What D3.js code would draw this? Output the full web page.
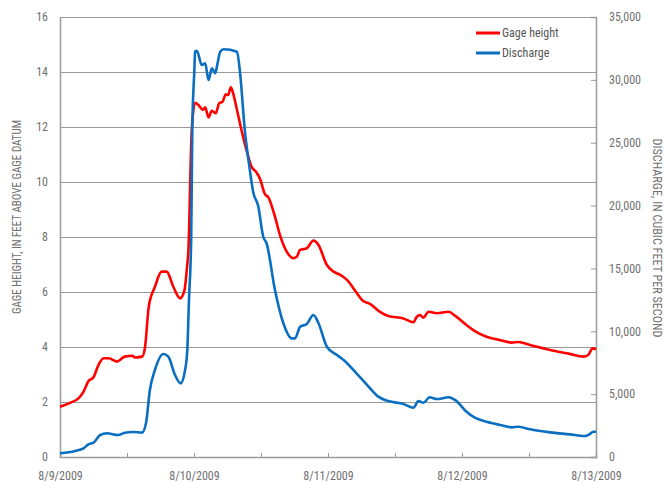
<!DOCTYPE html>
<html><head><meta charset="utf-8">
<script src="https://cdn.jsdelivr.net/npm/d3@7"></script>
<style>
html,body{margin:0;padding:0;background:#fff;}
svg{display:block;}
text{font-family:"Liberation Sans Narrow","Arial Narrow","Roboto Condensed","Liberation Sans",sans-serif;}
</style></head>
<body><svg id="chart" width="666" height="482"></svg>
<script>
// hours after 8/9/2009 00:00
const gageHours = [0,1.8,3.3,4.2,5.1,6.0,6.9,7.8,8.7,10.2,11.6,13.0,13.4,14.7,15.2,15.9,17.0,18.2,19.1,20.3,21.5,22.3,22.7,23.0,23.6,24.2,24.8,25.6,26.0,26.6,27.2,27.9,28.5,29.1,29.7,30.1,30.6,31.0,31.7,32.5,33.4,34.3,35.1,35.8,36.7,37.3,38.5,39.4,40.6,41.8,42.4,43.0,44.2,45.4,46.3,47.8,49.0,50.2,51.4,53.1,54.3,55.5,57.3,58.8,61.5,63.3,63.9,64.5,65.1,66.0,67.5,69.6,70.8,72.8,74.3,76.4,78.8,80.9,82.1,84.2,87.8,91.3,93.7,94.6,95.4,96];
const gageFeet = [1.83,1.97,2.13,2.37,2.76,2.90,3.35,3.59,3.59,3.47,3.65,3.68,3.62,3.65,3.95,5.47,6.19,6.74,6.74,6.19,5.77,6.07,6.80,7.53,11.89,12.88,12.80,12.62,12.72,12.35,12.59,12.50,12.86,12.92,13.19,13.16,13.44,13.23,12.62,11.89,11.16,10.56,10.37,10.13,9.56,9.45,8.74,8.07,7.47,7.23,7.28,7.53,7.59,7.87,7.71,6.98,6.74,6.62,6.44,5.98,5.67,5.57,5.28,5.13,5.04,4.90,5.10,5.16,5.07,5.28,5.23,5.28,5.13,4.80,4.58,4.37,4.25,4.16,4.18,4.07,3.89,3.75,3.65,3.71,3.95,3.92];
const dischargeHours = [0,2.7,4.2,5.1,6.0,7.2,8.4,10.4,11.6,13.1,14.7,15.4,16.1,17.0,18.5,19.4,20.6,21.6,22.4,22.8,23.1,23.5,23.7,24.05,24.2,24.5,25.4,26.0,26.6,27.2,27.8,28.1,28.7,29.3,31.7,32.2,33.1,34.0,34.6,35.5,36.4,37.0,38.5,40.0,41.5,42.1,43.0,44.2,45.4,46.3,47.8,49.6,50.8,53.1,55.5,57.0,58.8,61.5,63.3,64.2,65.1,66.2,67.5,69.6,70.8,72.8,74.3,76.4,78.8,80.9,82.1,84.2,87.8,91.3,94.0,94.9,95.5,96];
const dischargeCfs = [294,477,692,1010,1140,1750,1885,1750,1935,1990,1935,2680,5330,6920,8190,7980,6520,5860,6920,8510,12490,17500,26250,30620,32240,32320,31180,31320,29990,30920,30520,31050,32240,32430,32240,30780,26010,22830,21080,19970,17520,17000,13280,10640,9440,9440,10360,10580,11300,10640,8770,8110,7720,6660,5490,4800,4450,4220,3920,4450,4320,4750,4610,4750,4530,3600,3130,2810,2550,2360,2410,2200,1960,1800,1670,1830,2010,2010];
const gageTicks = [0,2,4,6,8,10,12,14,16];
const dischargeTicks = [0,5000,10000,15000,20000,25000,30000,35000];
const dateLabels = ["8/9/2009","8/10/2009","8/11/2009","8/12/2009","8/13/2009"];
const seriesNames = ["Gage height","Discharge"];
const seriesColors = ["#ff0000","#0a6fc0"];

const start = new Date(2009,7,9,0,0,0);
const toDate = h => new Date(start.getTime() + h*3600000);
const gageData = gageHours.map((h,i)=>({t:toDate(h), v:gageFeet[i]}));
const disData = dischargeHours.map((h,i)=>({t:toDate(h), v:dischargeCfs[i]}));

const svg = d3.select("#chart");
const L = 60, R = 596, T = 17, B = 457;
const x = d3.scaleTime().domain([start, toDate(96)]).range([L,R]);
const yG = d3.scaleLinear().domain([0,16]).range([B,T]);
const yQ = d3.scaleLinear().domain([0,35000]).range([B,T]);
const gray = "#9a9a9a", textCol = "#707070";

// gridlines
svg.append("g").selectAll("line").data(gageTicks.filter(d=>d>0)).join("line")
  .attr("x1",L).attr("x2",R).attr("y1",d=>yG(d)+0.5).attr("y2",d=>yG(d)+0.5)
  .attr("stroke",gray).attr("stroke-width",1.2);

// left axis
const gl = svg.append("g").attr("transform",`translate(${L},0)`)
  .call(d3.axisLeft(yG).tickValues(gageTicks).tickSize(0).tickPadding(12));
gl.select(".domain").attr("stroke",gray).attr("stroke-width",1.5);
gl.selectAll("text").attr("fill",textCol).style("font-size","12px");

// right axis
const gr = svg.append("g").attr("transform",`translate(${R},0)`)
  .call(d3.axisRight(yQ).tickValues(dischargeTicks).tickSize(-5).tickPadding(13).tickFormat(d3.format(",")));
gr.select(".domain").attr("stroke",gray).attr("stroke-width",1.5);
gr.selectAll("line").attr("stroke",gray);
gr.selectAll("text").attr("fill",textCol).style("font-size","12px");

// bottom axis
const xTicks = d3.range(0,97,12).map(toDate);
const gb = svg.append("g").attr("transform",`translate(0,${B})`)
  .call(d3.axisBottom(x).tickValues(xTicks).tickSize(-4).tickPadding(14)
    .tickFormat((d,i)=> i%2===0 ? dateLabels[i/2] : ""));
gb.select(".domain").attr("stroke",gray).attr("stroke-width",1.5);
gb.selectAll("line").attr("stroke",gray);
gb.selectAll("text").attr("fill",textCol).style("font-size","12px");

// axis titles
svg.append("text").attr("transform",`translate(21,217) rotate(-90)`)
  .attr("text-anchor","middle").attr("fill",textCol).style("font-size","12px")
  .attr("textLength",194).attr("lengthAdjust","spacingAndGlyphs")
  .text("GAGE HEIGHT, IN FEET ABOVE GAGE DATUM");
svg.append("text").attr("transform",`translate(653,238) rotate(90)`)
  .attr("text-anchor","middle").attr("fill",textCol).style("font-size","12px")
  .attr("textLength",199).attr("lengthAdjust","spacingAndGlyphs")
  .text("DISCHARGE, IN CUBIC FEET PER SECOND");

// lines
const lineG = d3.line().x(d=>x(d.t)).y(d=>yG(d.v)).curve(d3.curveMonotoneX);
const lineQ = d3.line().x(d=>x(d.t)).y(d=>yQ(d.v)).curve(d3.curveMonotoneX);
svg.append("path").datum(gageData).attr("d",lineG).attr("fill","none")
  .attr("stroke",seriesColors[0]).attr("stroke-width",2.6).attr("stroke-linejoin","round");
svg.append("path").datum(disData).attr("d",lineQ).attr("fill","none")
  .attr("stroke",seriesColors[1]).attr("stroke-width",2.6).attr("stroke-linejoin","round");

// legend
const lg = svg.append("g");
seriesNames.forEach((n,i)=>{
  const yy = 33 + i*20;
  lg.append("line").attr("x1",476).attr("x2",500).attr("y1",yy).attr("y2",yy)
    .attr("stroke",seriesColors[i]).attr("stroke-width",3);
  lg.append("text").attr("x",502).attr("y",yy+4).attr("fill","#555").style("font-size","12px").text(n);
});
</script></body></html>
